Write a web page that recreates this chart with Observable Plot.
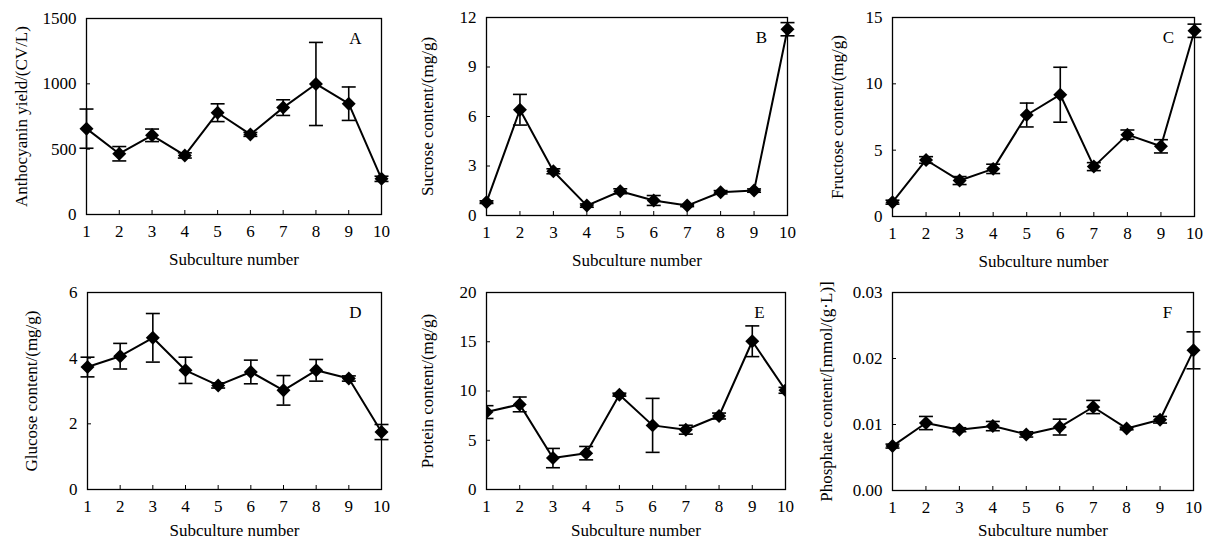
<!DOCTYPE html>
<html><head><meta charset="utf-8">
<script src="https://cdn.jsdelivr.net/npm/d3@7"></script>
<script src="https://cdn.jsdelivr.net/npm/@observablehq/plot@0.6"></script>
<style>
body{margin:0;background:#fff;}
#wrap{position:relative;width:1205px;height:541px;overflow:hidden;}
.panel{position:absolute;}
</style></head><body><div id="wrap"></div>
<script>
// Shared x categories
const subculture = [1, 2, 3, 4, 5, 6, 7, 8, 9, 10];

// A: Anthocyanin yield (CV/L)
const anthocyanin = [657, 465, 606, 452, 779, 613, 818, 999, 848, 273];
const anthocyaninErr = [150, 55, 48, 20, 68, 15, 60, 318, 128, 20];
// B: Sucrose content (mg/g)
const sucrose = [0.81, 6.41, 2.68, 0.6, 1.47, 0.91, 0.6, 1.41, 1.51, 11.29];
const sucroseErr = [0.08, 0.93, 0.15, 0.1, 0.15, 0.3, 0.06, 0.1, 0.1, 0.4];
// C: Fructose content (mg/g)
const fructose = [1.08, 4.26, 2.71, 3.59, 7.65, 9.18, 3.76, 6.17, 5.29, 14.0];
const fructoseErr = [0.15, 0.25, 0.3, 0.35, 0.9, 2.07, 0.3, 0.35, 0.5, 0.5];
// D: Glucose content (mg/g)
const glucose = [3.73, 4.06, 4.62, 3.63, 3.17, 3.58, 3.02, 3.63, 3.38, 1.75];
const glucoseErr = [0.3, 0.39, 0.74, 0.4, 0.08, 0.36, 0.45, 0.33, 0.08, 0.23];
// E: Protein content (mg/g)
const protein = [7.86, 8.64, 3.19, 3.69, 9.63, 6.51, 6.07, 7.46, 15.05, 10.07];
const proteinErr = [0.65, 0.75, 0.98, 0.68, 0.15, 2.74, 0.45, 0.3, 1.56, 0.3];
// F: Phosphate content (mmol/(g·L))
const phosphate = [0.00673, 0.01022, 0.00921, 0.00976, 0.0085, 0.00961, 0.01265, 0.0094, 0.01072, 0.02124];
const phosphateErr = [0.0003, 0.001, 0.0003, 0.0007, 0.0004, 0.0012, 0.001, 0.0002, 0.0005, 0.0028];

// Tick labels
const ticksA = [0, 500, 1000, 1500];
const ticksB = [0, 3, 6, 9, 12];
const ticksC = [0, 5, 10, 15];
const ticksD = [0, 2, 4, 6];
const ticksE = [0, 5, 10, 15, 20];
const ticksF = [0, 0.01, 0.02, 0.03];

const xLabel = "Subculture number";

const plain = d => String(d);
const panels = [
  {letter: "A", values: anthocyanin, errs: anthocyaninErr, ticks: ticksA, fmt: plain, label: "Anthocyanin yield/(CV/L)",
   left: 0, top: 0, width: 400, height: 270, mL: 86, mR: 19, mT: 18, mB: 56, yLabOff: 72, xLabOff: 50, clip: false},
  {letter: "B", values: sucrose, errs: sucroseErr, ticks: ticksB, fmt: plain, label: "Sucrose content/(mg/g)",
   left: 400, top: 0, width: 400, height: 270, mL: 86, mR: 13, mT: 17, mB: 55, yLabOff: 66, xLabOff: 50, clip: false},
  {letter: "C", values: fructose, errs: fructoseErr, ticks: ticksC, fmt: plain, label: "Fructose content/(mg/g)",
   left: 800, top: 0, width: 405, height: 270, mL: 92, mR: 11, mT: 17, mB: 54, yLabOff: 62, xLabOff: 50, clip: false},
  {letter: "D", values: glucose, errs: glucoseErr, ticks: ticksD, fmt: plain, label: "Glucose content/(mg/g)",
   left: 0, top: 270, width: 400, height: 271, mL: 87, mR: 19, mT: 22, mB: 52, yLabOff: 63, xLabOff: 46, clip: false},
  {letter: "E", values: protein, errs: proteinErr, ticks: ticksE, fmt: plain, label: "Protein content/(mg/g)",
   left: 400, top: 270, width: 400, height: 271, mL: 86, mR: 15, mT: 22, mB: 52, yLabOff: 66, xLabOff: 46, clip: true},
  {letter: "F", values: phosphate, errs: phosphateErr, ticks: ticksF, fmt: d3.format(".2f"), label: "Phosphate content/[mmol/(g·L)]",
   left: 800, top: 270, width: 405, height: 271, mL: 92, mR: 12, mT: 22, mB: 51, yLabOff: 73, xLabOff: 45, clip: false}
];

const capSymbol = {draw(ctx) { ctx.moveTo(-7, 0); ctx.lineTo(7, 0); }};

const wrap = document.getElementById("wrap");
for (const p of panels) {
  const data = subculture.map((s, i) => ({x: s, v: p.values[i], e: p.errs[i]}));
  const yMax = p.ticks[p.ticks.length - 1];
  const chart = Plot.plot({
    width: p.width,
    height: p.height,
    marginLeft: p.mL, marginRight: p.mR, marginTop: p.mT, marginBottom: p.mB,
    style: {fontFamily: "'Liberation Serif', 'Times New Roman', serif", fontSize: "17px", color: "black", background: "white"},
    x: {domain: [1, 10]},
    y: {domain: [0, yMax]},
    marks: [
      Plot.frame({stroke: "black", strokeWidth: 1.3}),
      Plot.axisX({ticks: subculture, tickFormat: plain, tickSize: -4, tickPadding: 14, fontSize: 17,
        label: xLabel, labelAnchor: "center", labelArrow: "none", labelOffset: p.xLabOff}),
      Plot.axisY({ticks: p.ticks, tickFormat: p.fmt, tickSize: -4, tickPadding: 14, fontSize: 17,
        label: p.label, labelAnchor: "center", labelArrow: "none", labelOffset: p.yLabOff}),
      Plot.ruleX(data, {x: "x", y1: d => d.v - d.e, y2: d => d.v + d.e, stroke: "black", strokeWidth: 1.6, clip: p.clip}),
      Plot.dot(data, {x: "x", y: d => d.v + d.e, symbol: capSymbol, r: 5, stroke: "black", fill: "none", strokeWidth: 1.6, clip: p.clip}),
      Plot.dot(data, {x: "x", y: d => d.v - d.e, symbol: capSymbol, r: 5, stroke: "black", fill: "none", strokeWidth: 1.6, clip: p.clip}),
      Plot.line(data, {x: "x", y: "v", stroke: "black", strokeWidth: 2, clip: p.clip}),
      Plot.dot(data, {x: "x", y: "v", symbol: "diamond2", r: 6.3, fill: "black", stroke: "none", clip: p.clip}),
      Plot.text([p.letter], {frameAnchor: "top-right", text: d => d, dx: -26, dy: 20, fontSize: 17, textAnchor: "middle", lineAnchor: "middle"})
    ]
  });
  chart.classList.add("panel");
  chart.style.left = p.left + "px";
  chart.style.top = p.top + "px";
  wrap.appendChild(chart);
}
</script></body></html>
